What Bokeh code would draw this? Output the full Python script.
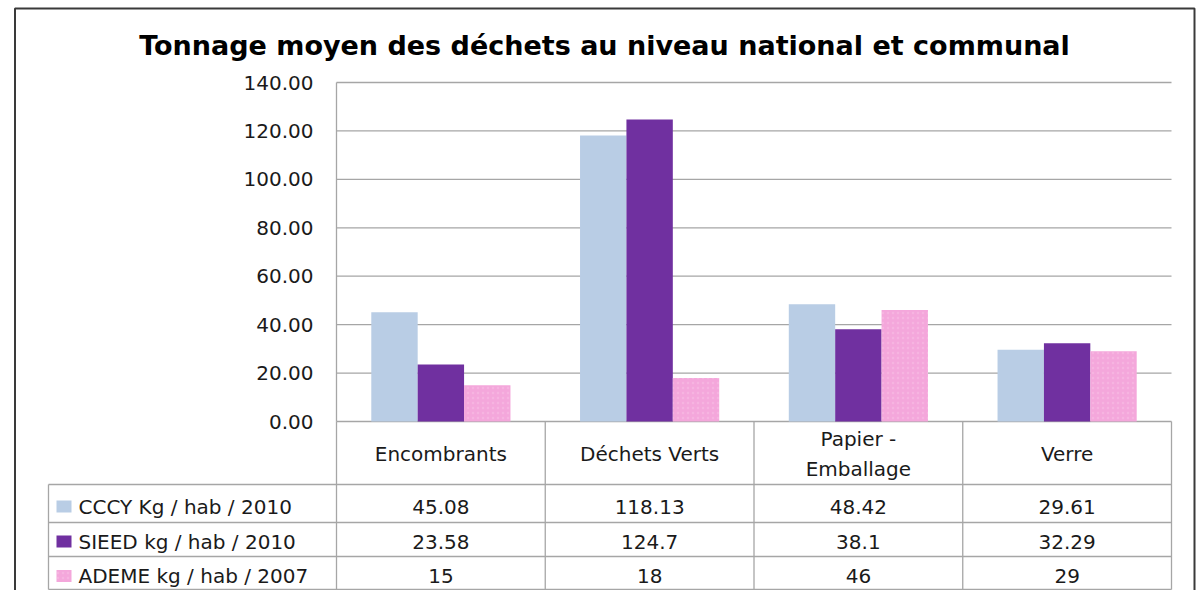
from bokeh.plotting import figure
from bokeh.models import Range1d, LinearAxis, FixedTicker, NumeralTickFormatter
from bokeh.core.properties import value
from bokeh.embed import file_html
from bokeh.resources import INLINE

# ---------------- data ----------------
title_text = "Tonnage moyen des déchets au niveau national et communal"
categories = ["Encombrants", "Déchets Verts", "Papier -\nEmballage", "Verre"]
series_names = ["CCCY Kg / hab / 2010", "SIEED kg / hab / 2010", "ADEME kg / hab / 2007"]
cccy = [45.08, 118.13, 48.42, 29.61]
sieed = [23.58, 124.7, 38.1, 32.29]
ademe = [15, 18, 46, 29]
y_ticks = [0, 20, 40, 60, 80, 100, 120, 140]

# ---------------- styles / layout ----------------
colors = ["#B9CDE5", "#7030A0", "#F4A7DB"]
grid_color = "#A6A6A6"
text_color = "#1A1A1A"
FONT = "DejaVu Sans"

W, H = 1200, 590
PAGE = 0                      # canvas offset on the page (Bokeh template has no margin)
X0, CAT_W = 336, 208.75       # first category left edge (page px), category width
Y0, YTOP = 421, 82            # page px of value 0 and value 140
PXU = (Y0 - YTOP) / 140.0
TABLE_LEFT = 48
ROW_LINES = [484, 522, 556, 589]
ROW_TEXT = [506, 541, 575.5]
CAT_TEXT_Y = 453.5


def xd(px):
    return (px - X0) / CAT_W


def yd(py):
    return (Y0 - py) / PXU


p = figure(width=W, height=H,
           x_range=Range1d(xd(PAGE), xd(PAGE + W)),
           y_range=Range1d(yd(PAGE + H), yd(PAGE)),
           x_axis_location=None, y_axis_location=None,
           output_backend="svg", toolbar_location=None,
           min_border=0, min_border_left=0, min_border_right=0,
           min_border_top=0, min_border_bottom=0,
           outline_line_color=None, background_fill_color="white",
           border_fill_color="white")
p.grid.visible = False

n = len(categories)
ns = len(series_names)
bw = 1 / 4.5
hatch = dict(hatch_pattern="dot", hatch_color="white", hatch_alpha=0.15,
             hatch_scale=5, hatch_weight=0.5)

# gridlines
p.segment(x0=[0] * len(y_ticks), x1=[n] * len(y_ticks), y0=y_ticks, y1=y_ticks,
          line_color=grid_color, line_width=1.3)

# bars
for s, (vals, col) in enumerate(zip([cccy, sieed, ademe], colors)):
    xs = [i + 0.5 + (s - (ns - 1) / 2) * bw for i in range(n)]
    kw = hatch if s == 2 else {}
    p.vbar(x=xs, top=vals, bottom=0, width=bw, fill_color=col, line_color=None, **kw)

# y axis at category start
yaxis = LinearAxis(fixed_location=0, ticker=FixedTicker(ticks=y_ticks),
                   formatter=NumeralTickFormatter(format="0.00"),
                   bounds=(0, 140), axis_line_color=grid_color, axis_line_width=1.3,
                   major_tick_line_color=None, minor_tick_line_color=None,
                   major_tick_out=0, major_tick_in=0,
                   major_label_standoff=23,
                   major_label_text_font=FONT, major_label_text_font_size="20px",
                   major_label_text_color=text_color)
p.add_layout(yaxis, "left")

# data table lines
vx = list(range(n + 1))
p.segment(x0=vx, x1=vx, y0=[0] * len(vx), y1=[yd(ROW_LINES[-1])] * len(vx),
          line_color=grid_color, line_width=1.3)
p.segment(x0=[xd(TABLE_LEFT)] * len(ROW_LINES), x1=[n] * len(ROW_LINES),
          y0=[yd(r) for r in ROW_LINES], y1=[yd(r) for r in ROW_LINES],
          line_color=grid_color, line_width=1.3)
p.segment(x0=[xd(TABLE_LEFT)], x1=[xd(TABLE_LEFT)], y0=[yd(ROW_LINES[0])],
          y1=[yd(ROW_LINES[-1])], line_color=grid_color, line_width=1.3)

# category labels
p.text(x=[i + 0.5 for i in range(n)], y=[yd(CAT_TEXT_Y)] * n, text=categories,
       text_align="center", text_baseline="middle", text_font=value(FONT),
       text_font_size="20px", text_color=text_color, text_line_height=1.25)


def fmt(v):
    return f"{v:g}"


for s, (name, vals, col) in enumerate(zip(series_names, [cccy, sieed, ademe], colors)):
    ty = yd(ROW_TEXT[s])
    p.text(x=[i + 0.5 for i in range(n)], y=[ty] * n, text=[fmt(v) for v in vals],
           text_align="center", text_baseline="middle", text_font=value(FONT),
           text_font_size="20px", text_color=text_color)
    kw = hatch if s == 2 else {}
    p.rect(x=[xd(63.5)], y=[ty], width=15, height=12, width_units="screen",
           height_units="screen", fill_color=col, line_color=None, **kw)
    p.text(x=[xd(78)], y=[ty], text=[name], text_align="left", text_baseline="middle",
           text_font=value(FONT), text_font_size="20px", text_color=text_color)

# title
p.text(x=[xd(604)], y=[yd(45)], text=[title_text], text_align="center",
       text_baseline="alphabetic", text_font=value(FONT), text_font_style="bold",
       text_font_size="27px", text_color="black")

# outer frame of the chart object
p.line(x=[xd(14.5), xd(14.5), xd(1194), xd(1194)],
       y=[yd(PAGE + H + 10), yd(8), yd(8), yd(PAGE + H + 10)],
       line_color="#3A3A3A", line_width=2)

open("out.html", "w").write(file_html(p, INLINE, title=title_text))
